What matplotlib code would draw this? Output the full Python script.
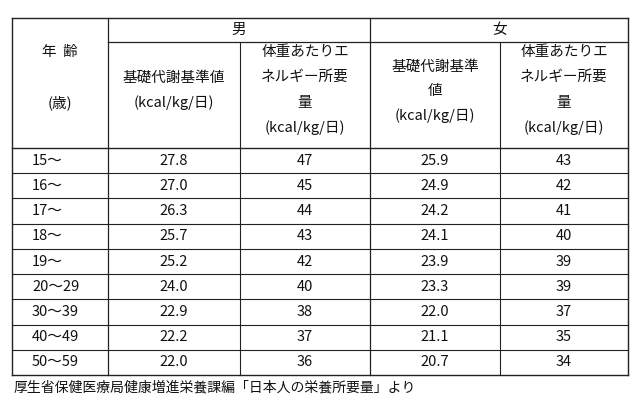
import matplotlib.pyplot as plt

plt.rcParams['font.family'] = ['Noto Sans CJK JP', 'DejaVu Sans']

ages = ['15～', '16～', '17～', '18～', '19～', '20～29', '30～39', '40～49', '50～59']
male_bmr = ['27.8', '27.0', '26.3', '25.7', '25.2', '24.0', '22.9', '22.2', '22.0']
male_energy = ['47', '45', '44', '43', '42', '40', '38', '37', '36']
female_bmr = ['25.9', '24.9', '24.2', '24.1', '23.9', '23.3', '22.0', '21.1', '20.7']
female_energy = ['43', '42', '41', '40', '39', '39', '37', '35', '34']
footer = '厚生省保健医療局健康増進栄養課編「日本人の栄養所要量」より'

fig = plt.figure(figsize=(6.4, 4.09), dpi=100)
ax = fig.add_axes([0, 0, 1, 1])
ax.set_xlim(0, 640)
ax.set_ylim(409, 0)
ax.axis('off')

cols = [12, 108, 240, 370, 500, 628]
top, sub, body, bottom = 18, 42, 148, 375
row_h = (bottom - body) / len(ages)
lc = '#222222'

# grid lines
ax.plot([cols[0], cols[-1]], [top, top], color=lc, lw=1)
ax.plot([cols[1], cols[-1]], [sub, sub], color=lc, lw=0.9)
for i in range(len(ages) + 1):
    y = body + i * row_h
    ax.plot([cols[0], cols[-1]], [y, y], color=lc, lw=1 if i in (0, len(ages)) else 0.8)
ax.plot([cols[0], cols[0]], [top, bottom], color=lc, lw=1)
ax.plot([cols[-1], cols[-1]], [top, bottom], color=lc, lw=1)
ax.plot([cols[1], cols[1]], [top, bottom], color=lc, lw=0.9)
ax.plot([cols[3], cols[3]], [top, bottom], color=lc, lw=0.9)
ax.plot([cols[2], cols[2]], [sub, bottom], color=lc, lw=0.8)
ax.plot([cols[4], cols[4]], [sub, bottom], color=lc, lw=0.8)

fs = 10.5
def txt(x, y, s):
    ax.text(x, y, s, ha='center', va='center', fontsize=fs, color='#111111')

def cx(i):
    return (cols[i] + cols[i + 1]) / 2

txt(cx(1) + 65, 30, '男')
txt(cx(3) + 65, 30, '女')
txt(cx(0), 52, '年  齢')
txt(cx(0), 103, '(歳)')
txt(cx(1), 78, '基礎代謝基準値')
txt(cx(1), 103, '(kcal/kg/日)')
for c in (2, 4):
    txt(cx(c), 52, '体重あたりエ')
    txt(cx(c), 77, 'ネルギー所要')
    txt(cx(c), 103, '量')
    txt(cx(c), 128, '(kcal/kg/日)')
txt(cx(3), 67, '基礎代謝基準')
txt(cx(3), 91, '値')
txt(cx(3), 116, '(kcal/kg/日)')

for i, vals in enumerate(zip(ages, male_bmr, male_energy, female_bmr, female_energy)):
    y = body + (i + 0.5) * row_h
    for c, v in enumerate(vals):
        if c == 0:
            ax.text(cols[0] + 20, y, v, ha='left', va='center', fontsize=fs, color='#111111')
        else:
            txt(cx(c), y, v)

ax.text(14, 388, footer, ha='left', va='center', fontsize=10, color='#111111')

fig.savefig('out.png', dpi=100)
